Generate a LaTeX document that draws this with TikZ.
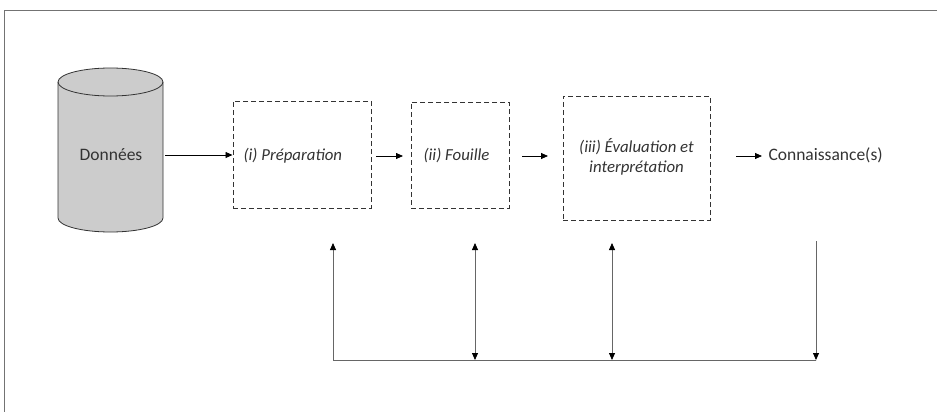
\documentclass[tikz,border=0pt]{standalone}
\usepackage{fontspec}
\setmainfont{Carlito}
\usetikzlibrary{arrows.meta}
\begin{document}
\begin{tikzpicture}[x=1pt,y=-1pt,
  box/.style={draw=black!80,dash pattern=on 5pt off 3pt,line width=1pt,inner sep=0pt},
  arr/.style={-{Triangle[length=7pt,width=6pt]},line width=0.8pt},
  tipk/.tip={Triangle[length=7pt,width=6pt,color=black]},
  fb/.style={draw=black!60,dash pattern=on 0.6pt off 0.4pt,line width=0.8pt},
  lab/.style={font=\fontsize{16.8}{20}\selectfont\itshape,text=black!80},
  reg/.style={font=\fontsize{17.5}{21}\selectfont,text=black!80}]
\useasboundingbox (0,0) rectangle (937,412);
\draw[black!55,line width=1pt] (4,412) -- (4,11) -- (937,11);
% cylinder
\draw[draw=black!80,fill=black!20,line width=0.8pt]
  (58,82) -- (58,218) arc[start angle=180,end angle=0,x radius=52.5,y radius=14]
  -- (163,82) arc[start angle=0,end angle=-180,x radius=52.5,y radius=14] -- cycle;
\draw[draw=black!80,line width=0.8pt] (58,82) arc[start angle=180,end angle=0,x radius=52.5,y radius=14];
\node[inner sep=0pt,minimum width=105pt,minimum height=164pt] (db) at (110.5,150) {};
\node[reg] (dbt) at (111,155) {Données};
\node[box,minimum width=138pt,minimum height=107pt] (b1) at (302,154.5) {};
\node[lab,anchor=west] (t1) at (240,156) {(i) Préparation};
\node[box,minimum width=98pt,minimum height=106pt] (b2) at (460,155) {};
\node[lab,anchor=west] (t2) at (420,156) {(ii) Fouille};
\node[box,minimum width=147pt,minimum height=124pt] (b3) at (636.5,158) {};
\node[lab,align=center] (t3) at (636.5,157) {(iii) Évaluation et\\interprétation};
\node[reg,anchor=west] (k) at (765,155) {Connaissance(s)};
\draw[arr] (db.east|-dbt) ++(2,0) coordinate (a0) -- (b1.west|-dbt);
\coordinate (a1s) at (376,156); \coordinate (a1e) at (403,156);
\draw[arr] (a1s) -- (a1e);
\coordinate (a2s) at (522,156); \coordinate (a2e) at (548,156);
\draw[arr] (a2s) -- (a2e);
\coordinate (a3s) at (736,156); \coordinate (a3e) at (762,156);
\draw[arr] (a3s) -- (a3e);
% feedback
\coordinate (p1t) at (333,243); \coordinate (p1b) at (333,360);
\coordinate (p2t) at (475,243); \coordinate (p2b) at (475,360);
\coordinate (p3t) at (612,243); \coordinate (p3b) at (612,360);
\coordinate (p4t) at (816,241); \coordinate (p4b) at (816,360);
\draw[fb] (p1b) -- (p4b);
\draw[fb,tipk-] (p1t) -- (p1b);
\draw[fb,tipk-tipk] (p2t) -- (p2b);
\draw[fb,tipk-tipk] (p3t) -- (p3b);
\draw[fb,-tipk] (p4t) -- (p4b);
\end{tikzpicture}
\end{document}
